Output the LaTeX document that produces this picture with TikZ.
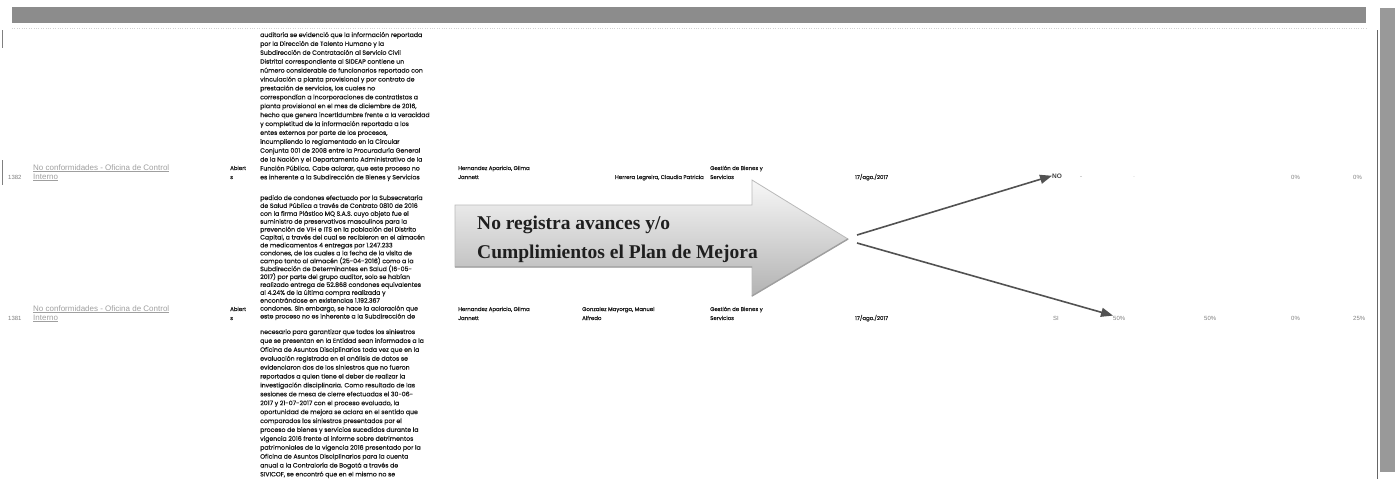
\documentclass[tikz,border=0pt]{standalone}
\usepackage{fontspec}
\setmainfont{Liberation Serif}
\newfontfamily\gothic{Poppins}[FakeBold=0.5]
\newfontfamily\arial{Liberation Sans}
\usetikzlibrary{positioning}
\usetikzlibrary{calc}
\usetikzlibrary{arrows.meta}

\tikzset{
  linea/.style={anchor=base west,inner sep=0pt,font=\gothic\fontsize{6.2}{7}\selectfont,text=black!90},
  nombre/.style={anchor=base west,inner sep=0pt,font=\gothic\fontsize{5.4}{6}\selectfont,text=black!90},
  enlace/.style={anchor=base west,inner sep=0pt,font=\arial\fontsize{8}{9}\selectfont,text=gray!75},
  cifra/.style={anchor=base west,inner sep=0pt,font=\arial\fontsize{6}{7}\selectfont,text=black!50},
  rotulo/.style={anchor=base west,inner sep=0pt,font=\bfseries\fontsize{19.5}{24}\selectfont,text=black!88},
  flecha/.style={draw=black!68,line width=1.6pt,-{Triangle[length=12pt,width=9pt]}},
}

\begin{document}
\begin{tikzpicture}[x=1pt,y=-1pt]
  \useasboundingbox (0,0) rectangle (1398,479);
  % marco de la hoja
  \fill[black!45] (12,7) rectangle (1366,23);
  \draw[gray!35,dotted] (12,28) -- (1366,28);
  \fill[black!40] (1380,8) rectangle (1395,472);
  \draw[black!60,line width=0.8pt] (1377,30) -- (1377,479);
  \draw[black!50,line width=0.8pt] (2,30) -- (2,48) (2,160) -- (2,185);

  % fila 1382
  \node[cifra] (n1) at (8,179) {1382};
  \node[enlace] (c1a) at (33,170) {\underline{No conformidades - Oficina de Control}};
  \node[enlace] (c1b) at (33,179) {\underline{Interno}};
  \node[nombre] (e1a) at (230,170) {Abiert};
  \node[nombre] (e1b) at (230,179) {s};
  \node[nombre] (r1a) at (458,170) {Hernandez Aparicio, Gilma};
  \node[nombre] (r1b) at (458,179) {Jannett};
  \node[nombre,anchor=base east] (s1) at (704,179) {Herrera Legreira, Claudia Patricia};
  \node[nombre] (g1a) at (710,170) {Gestión de Bienes y};
  \node[nombre] (g1b) at (710,179) {Servicios};
  \node[nombre] (f1) at (855,179) {17/ago./2017};
  \node[cifra,text=black!75,font=\arial\bfseries\fontsize{6.5}{7}\selectfont] (no) at (1052,178) {NO};
  \node[cifra] (d1) at (1080,178) {-};
  \node[cifra,text=gray!35] (d2) at (1133,178) {-};
  \node[cifra] (p1a) at (1291,179) {0\%};
  \node[cifra] (p1b) at (1353,179) {0\%};

  % fila 1381
  \node[cifra] (n2) at (8,320) {1381};
  \node[enlace] (c2a) at (33,311) {\underline{No conformidades - Oficina de Control}};
  \node[enlace] (c2b) at (33,320) {\underline{Interno}};
  \node[nombre] (e2a) at (230,311) {Abiert};
  \node[nombre] (e2b) at (230,320) {s};
  \node[nombre] (r2a) at (458,311) {Hernandez Aparicio, Gilma};
  \node[nombre] (r2b) at (458,320) {Jannett};
  \node[nombre] (s2a) at (582,311) {Gonzalez Mayorga, Manuel};
  \node[nombre] (s2b) at (582,320) {Alfredo};
  \node[nombre] (g2a) at (710,311) {Gestión de Bienes y};
  \node[nombre] (g2b) at (710,320) {Servicios};
  \node[nombre] (f2) at (855,320) {17/ago./2017};
  \node[cifra] (si) at (1053,320) {SI};
  \node[cifra] (p50a) at (1113,320) {50\%};
  \node[cifra] (p50b) at (1204,320) {50\%};
  \node[cifra] (p2a) at (1291,320) {0\%};
  \node[cifra] (p2b) at (1353,320) {25\%};

  % observaciones
  \foreach \t [count=\i] in {{auditoría se evidenció que la información reportada},
      {por la Dirección de Talento Humano y la},
      {Subdirección de Contratación al Servicio Civil},
      {Distrital correspondiente al SIDEAP contiene un},
      {número considerable de funcionarios reportado con},
      {vinculación a planta provisional y por contrato de},
      {prestación de servicios, los cuales no},
      {correspondían a incorporaciones de contratistas a},
      {planta provisional en el mes de diciembre de 2016,},
      {hecho que genera incertidumbre frente a la veracidad},
      {y completitud de la información reportada a los},
      {entes externos por parte de los procesos,},
      {incumpliendo lo reglamentado en la Circular},
      {Conjunta 001 de 2008 entre la Procuraduría General},
      {de la Nación y el Departamento Administrativo de la},
      {Función Pública. Cabe aclarar, que este proceso no},
      {es inherente a la Subdirección de Bienes y Servicios}}
    \node[linea] (a\i) at (260,{37+(\i-1)*8.9}) {\t};

  \foreach \t [count=\i] in {{pedido de condones efectuado por la Subsecretaría},
      {de Salud Pública a través de Contrato 0810 de 2016},
      {con la firma Plástico MQ S.A.S. cuyo objeto fue el},
      {suministro de preservativos masculinos para la},
      {prevención de VIH e ITS en la población del Distrito},
      {Capital, a través del cual se recibieron en el almacén},
      {de medicamentos 4 entregas por 1.247.233},
      {condones, de los cuales a la fecha de la visita de},
      {campo tanto al almacén (25-04-2016) como a la},
      {Subdirección de Determinantes en Salud (16-05-},
      {2017) por parte del grupo auditor, solo se habían},
      {realizado entrega de 52.868 condones equivalentes},
      {al 4.24\% de la última compra realizada y},
      {encontrándose en existencias 1.192.367},
      {condones. Sin embargo, se hace la aclaración que},
      {este proceso no es inherente a la Subdirección de}}
    \node[linea] (b\i) at (260,{200+(\i-1)*7.9}) {\t};

  \foreach \t [count=\i] in {{necesario para garantizar que todos los siniestros},
      {que se presentan en la Entidad sean informados a la},
      {Oficina de Asuntos Disciplinarios toda vez que en la},
      {evaluación registrada en el análisis de datos se},
      {evidenciaron dos de los siniestros que no fueron},
      {reportados a quien tiene el deber de realizar la},
      {investigación disciplinaria. Como resultado de las},
      {sesiones de mesa de cierre efectuadas el 30-06-},
      {2017 y 21-07-2017 con el proceso evaluado, la},
      {oportunidad de mejora se aclara en el sentido que},
      {comparados los siniestros presentados por el},
      {proceso de bienes y servicios sucedidos durante la},
      {vigencia 2016 frente al informe sobre detrimentos},
      {patrimoniales de la vigencia 2016 presentado por la},
      {Oficina de Asuntos Disciplinarios para la cuenta},
      {anual a la Contraloría de Bogotá a través de},
      {SIVICOF, se encontró que en el mismo no se}}
    \node[linea] (c\i) at (260,{334+(\i-1)*8.9}) {\t};

  % flecha grande
  \coordinate (punta) at (848,239);
  \shade[top color=gray!6,bottom color=gray!60,draw=gray!55,line width=0.8pt]
    (455,205) -- (752,205) -- (752,180) -- (punta) -- (752,296) -- (752,267) -- (455,267) -- cycle;
  \draw[gray!75,line width=1.4pt] (455,267) -- (752,267) (752,296) -- (punta);
  \node[rotulo] (rot1) at (477,229) {No registra avances y/o};
  \node[rotulo] (rot2) at (477,258) {Cumplimientos el Plan de Mejora};

  % flechas finas
  \coordinate (sal1) at (857,235);
  \coordinate (sal2) at (857,243);
  \draw[flecha] (sal1) -- (no.west);
  \draw[flecha] (sal2) -- (p50a.north west);
\end{tikzpicture}
\end{document}
